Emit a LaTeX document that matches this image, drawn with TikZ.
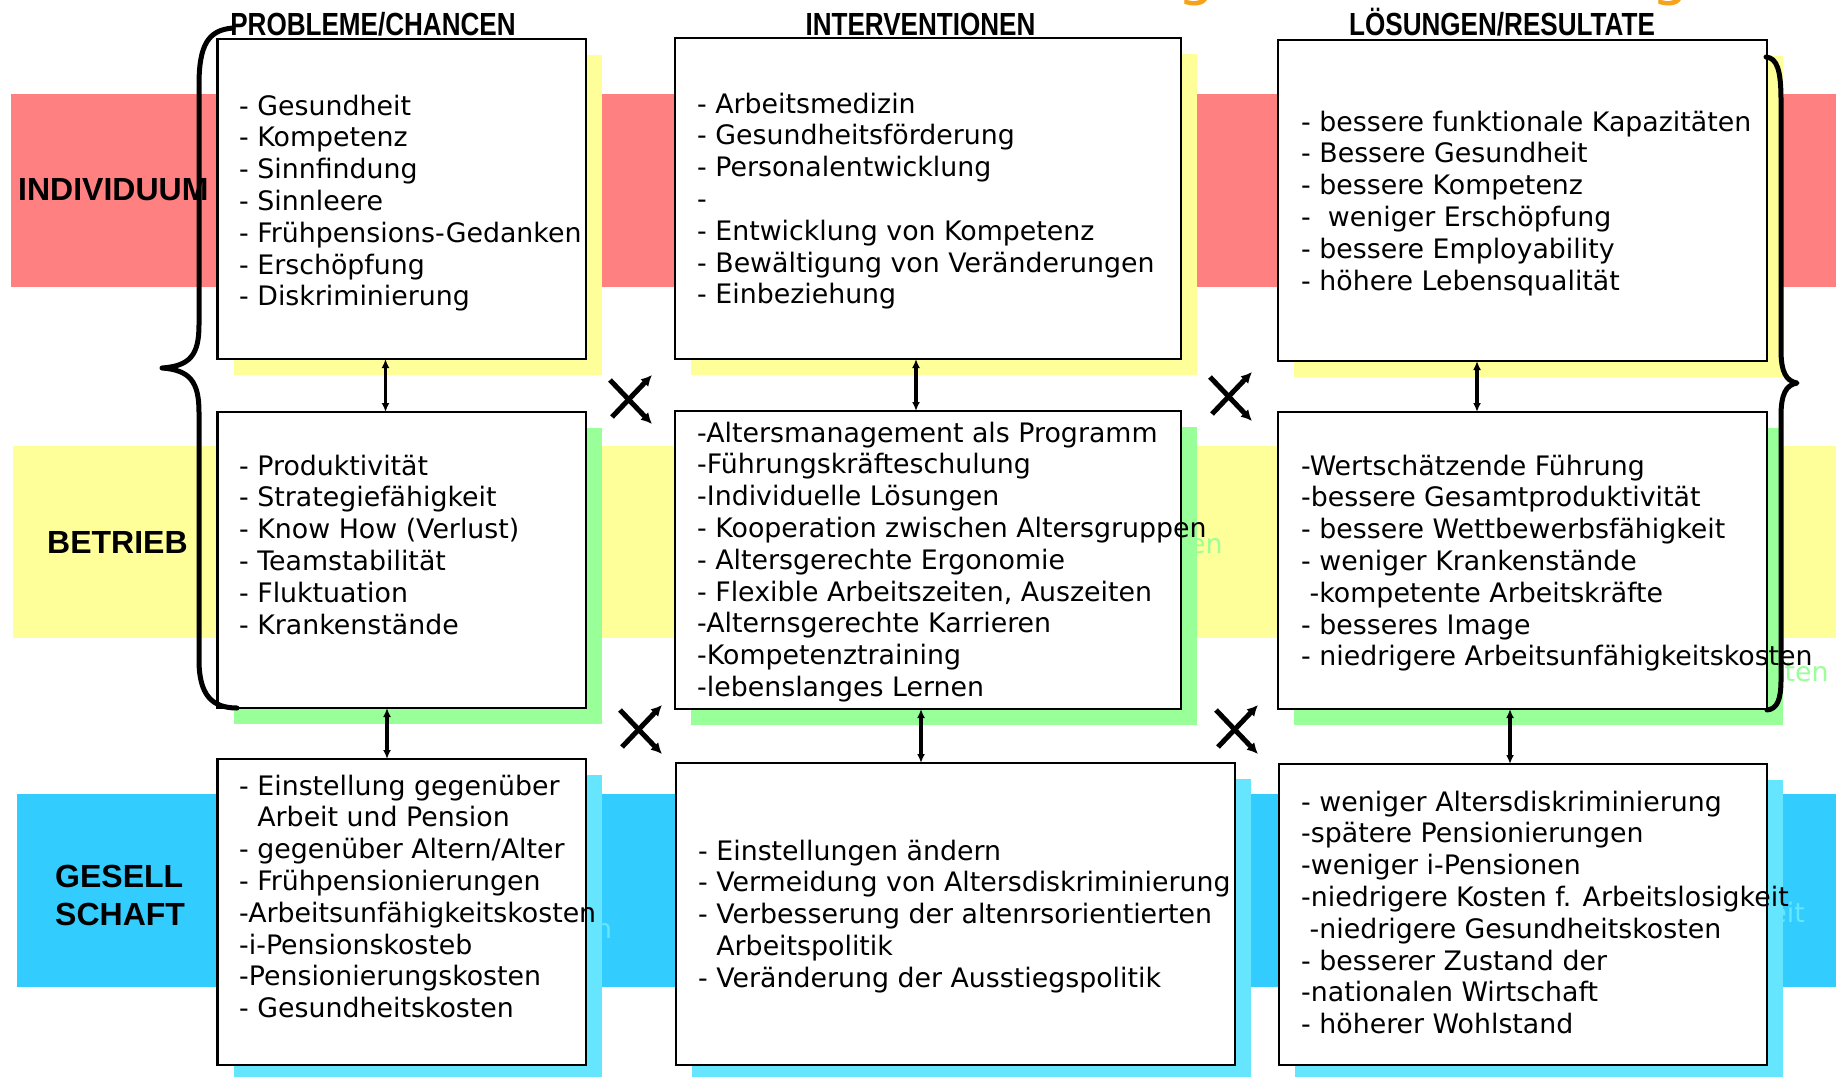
\documentclass[tikz,border=0pt]{standalone}
\usepackage{fontspec}
\usepackage{tikz}
\usetikzlibrary{arrows.meta,calc}
\newfontfamily\listfont{DejaVu Sans}
\newfontfamily\headfont[FakeStretch=0.815]{Liberation Sans}
\newfontfamily\rowfont{Liberation Sans}
\definecolor{bandred}{HTML}{FF8080}
\definecolor{bandyellow}{HTML}{FFFF99}
\definecolor{shadegreen}{HTML}{99FF99}
\definecolor{bandblue}{HTML}{33CCFF}
\definecolor{shadecyan}{HTML}{66E5FF}
\definecolor{titleorange}{HTML}{F7A21B}
% texts of the boxes
\newcommand\probIndText{- Gesundheit\\- Kompetenz\\- Sinnfindung\\- Sinnleere\\- Frühpensions-Gedanken\\- Erschöpfung\\- Diskriminierung}
\newcommand\intIndText{- Arbeitsmedizin\\- Gesundheitsförderung\\- Personalentwicklung\\-\\- Entwicklung von Kompetenz\\- Bewältigung von Veränderungen\\- Einbeziehung}
\newcommand\resIndText{- bessere funktionale Kapazitäten\\- Bessere Gesundheit\\- bessere Kompetenz\\-~ weniger Erschöpfung\\- bessere Employability\\- höhere Lebensqualität}
\newcommand\probBetText{- Produktivität\\- Strategiefähigkeit\\- Know How (Verlust)\\- Teamstabilität\\- Fluktuation\\- Krankenstände}
\newcommand\intBetText{-Altersmanagement als Programm\\-Führungskräfteschulung\\-Individuelle Lösungen\\- Kooperation zwischen Altersgruppen\\- Altersgerechte Ergonomie\\- Flexible Arbeitszeiten, Auszeiten\\-Alternsgerechte Karrieren\\-Kompetenztraining\\-lebenslanges Lernen}
\newcommand\resBetText{-Wertschätzende Führung\\-bessere Gesamtproduktivität\\- bessere Wettbewerbsfähigkeit\\- weniger Krankenstände\\~-kompetente Arbeitskräfte\\- besseres Image\\- niedrigere Arbeitsunfähigkeitskosten}
\newcommand\probGesText{- Einstellung gegenüber\\\phantom{- }Arbeit und Pension\\- gegenüber Altern/Alter\\- Frühpensionierungen\\-Arbeitsunfähigkeitskosten\\-i-Pensionskosteb\\-Pensionierungskosten\\- Gesundheitskosten}
\newcommand\intGesText{- Einstellungen ändern\\- Vermeidung von Altersdiskriminierung\\- Verbesserung der altenrsorientierten\\\phantom{- }Arbeitspolitik\\- Veränderung der Ausstiegspolitik}
\newcommand\resGesText{- weniger Altersdiskriminierung\\-spätere Pensionierungen\\-weniger i-Pensionen\\-niedrigere Kosten f. Arbeitslosigkeit\\~-niedrigere Gesundheitskosten\\- besserer Zustand der\\-nationalen Wirtschaft\\- höherer Wohlstand}

\begin{document}
\begin{tikzpicture}[x=1pt,y=-1pt,>={Latex[length=9pt,width=8pt]},
    box/.style={draw,line width=2.6pt,fill=white,anchor=north west,inner sep=0pt,outer sep=0pt},
    shade/.style={anchor=north west,inner sep=0pt,outer sep=0pt},
    items/.style={anchor=base west,align=left,inner sep=0pt,font=\listfont\fontsize{26.8}{31.8}\selectfont},
    head/.style={anchor=base,inner sep=0pt,font=\headfont\bfseries\fontsize{32}{38}\selectfont},
    rowname/.style={anchor=base west,align=left,inner sep=0pt,font=\rowfont\bfseries\fontsize{32}{38}\selectfont},
    link/.style={<->,line width=3.2pt},
    cross/.style={->,line width=5pt,>={Latex[length=11pt,width=11pt]}},
    brace/.style={line width=5pt,line cap=round,line join=round}]
    \useasboundingbox (0,0) rectangle (1836,1076);

    % bands
    \fill[bandred] (11,94) rectangle (1836,287);
    \fill[bandyellow] (13,446) rectangle (1836,638);
    \fill[bandblue] (17,794) rectangle (1836,987);

    % shadows (the base of a list is its last line)
    \node[shade,fill=bandyellow,minimum width=368.5,minimum height=320] (probIndSh) at (233.5,55) {};
    \node[shade,fill=bandyellow,minimum width=506,minimum height=321] (intIndSh) at (691,54) {};
    \node[shade,fill=bandyellow,minimum width=489,minimum height=321] (resIndSh) at (1294,56) {};
    \node[shade,fill=shadegreen,minimum width=368.5,minimum height=296] (probBetSh) at (233.5,428) {};
    \node[shade,fill=shadegreen,minimum width=506,minimum height=298] (intBetSh) at (691,427) {};
    \node[shade,fill=shadegreen,minimum width=489,minimum height=297] (resBetSh) at (1294,428) {};
    \node[shade,fill=shadecyan,minimum width=368.5,minimum height=306] (probGesSh) at (233.5,775) {};
    \node[shade,fill=shadecyan,minimum width=559,minimum height=302] (intGesSh) at (692,779) {};
    \node[shade,fill=shadecyan,minimum width=488,minimum height=301] (resGesSh) at (1295,780) {};
    \node[items,text=shadegreen] (intBetGhost) at (713,712.4) {\intBetText};
    \node[items,text=shadegreen] (resBetGhost) at (1317,681.8) {\resBetText};
    \node[items,text=shadecyan] (probGesGhost) at (255,1033.6) {\probGesText};
    \node[items,text=shadecyan] (resGesGhost) at (1317,1049.6) {\resGesText};

    % boxes
    \node[box,minimum width=368.5,minimum height=320] (probInd) at (217.5,39) {};
    \node[box,minimum width=506,minimum height=321] (intInd) at (675,38) {};
    \node[box,minimum width=489,minimum height=321] (resInd) at (1278,40) {};
    \node[box,minimum width=368.5,minimum height=296] (probBet) at (217.5,412) {};
    \node[box,minimum width=506,minimum height=298] (intBet) at (675,411) {};
    \node[box,minimum width=489,minimum height=297] (resBet) at (1278,412) {};
    \node[box,minimum width=368.5,minimum height=306] (probGes) at (217.5,759) {};
    \node[box,minimum width=559,minimum height=302] (intGes) at (676,763) {};
    \node[box,minimum width=488,minimum height=301] (resGes) at (1279,764) {};

    \node[items] (probIndTxt) at (239,305.8) {\probIndText};
    \node[items] (intIndTxt) at (697,303.8) {\intIndText};
    \node[items] (resIndTxt) at (1301,290) {\resIndText};
    \node[items] (probBetTxt) at (239,634) {\probBetText};
    \node[items] (intBetTxt) at (697,696.4) {\intBetText};
    \node[items] (resBetTxt) at (1301,665.8) {\resBetText};
    \node[items] (probGesTxt) at (239,1017.6) {\probGesText};
    \node[items] (intGesTxt) at (698,987.2) {\intGesText};
    \node[items] (resGesTxt) at (1301,1033.6) {\resGesText};

    % row and column names
    \node[rowname] (ind) at (18,200) {INDIVIDUUM};
    \node[rowname] (bet) at (47,553) {BETRIEB};
    \node[rowname] (ges) at (55,925) {GESELL\\SCHAFT};
    \node[head] (probHead) at (373,35) {PROBLEME/CHANCEN};
    \node[head] (intHead) at (920.5,35) {INTERVENTIONEN};
    \node[head] (resHead) at (1502,35) {LÖSUNGEN/RESULTATE};
    \node[anchor=base,inner sep=0pt,text=titleorange,font=\listfont\fontsize{60}{60}\selectfont] (titleA) at (1197,-6) {g};
    \node[anchor=base,inner sep=0pt,text=titleorange,font=\listfont\fontsize{60}{60}\selectfont] (titleB) at (1671,-6) {g};

    % braces
    \draw[brace] (233,28) .. controls (208,30) and (199,45) .. (199,85) -- (199,325)
        .. controls (199,355) and (190,366) .. (162,368)
        .. controls (190,370) and (199,382) .. (199,412) -- (199,660)
        .. controls (199,695) and (212,708) .. (237,708);
    \draw[brace] (1766,57) .. controls (1777,58) and (1781,70) .. (1781,100) -- (1781,350)
        .. controls (1781,372) and (1786,381) .. (1797,383)
        .. controls (1786,385) and (1781,394) .. (1781,416) -- (1781,680)
        .. controls (1781,700) and (1777,709) .. (1767,710);

    % links between the rows
    \draw[link] ([xshift=-16.25pt]probInd.south) -- ([xshift=-16.25pt]probBet.north);
    \draw[link] ([xshift=-14.75pt]probBet.south) -- ([xshift=-14.75pt]probGes.north);
    \draw[link] ([xshift=-12pt]intInd.south) -- ([xshift=-12pt]intBet.north);
    \draw[link] ([xshift=-7pt]intBet.south) -- ([xshift=-34.5pt]intGes.north);
    \draw[link] ([xshift=-45.5pt]resInd.south) -- ([xshift=-45.5pt]resBet.north);
    \draw[link] ([xshift=-12.5pt]resBet.south) -- ([xshift=-13pt]resGes.north);

    % crossed arrows
    \coordinate (crossA) at (631,399);
    \coordinate (crossB) at (1231,396);
    \coordinate (crossC) at (641,729);
    \coordinate (crossD) at (1237,729);
    \draw[cross] ($(crossA)+(-21,-19)$) -- ($(crossA)+(21,25)$);
    \draw[cross] ($(crossA)+(-19,18)$) -- ($(crossA)+(21,-24)$);
    \draw[cross] ($(crossB)+(-21,-19)$) -- ($(crossB)+(21,25)$);
    \draw[cross] ($(crossB)+(-19,18)$) -- ($(crossB)+(21,-24)$);
    \draw[cross] ($(crossC)+(-21,-19)$) -- ($(crossC)+(21,25)$);
    \draw[cross] ($(crossC)+(-19,18)$) -- ($(crossC)+(21,-24)$);
    \draw[cross] ($(crossD)+(-21,-19)$) -- ($(crossD)+(21,25)$);
    \draw[cross] ($(crossD)+(-19,18)$) -- ($(crossD)+(21,-24)$);
\end{tikzpicture}
\end{document}
